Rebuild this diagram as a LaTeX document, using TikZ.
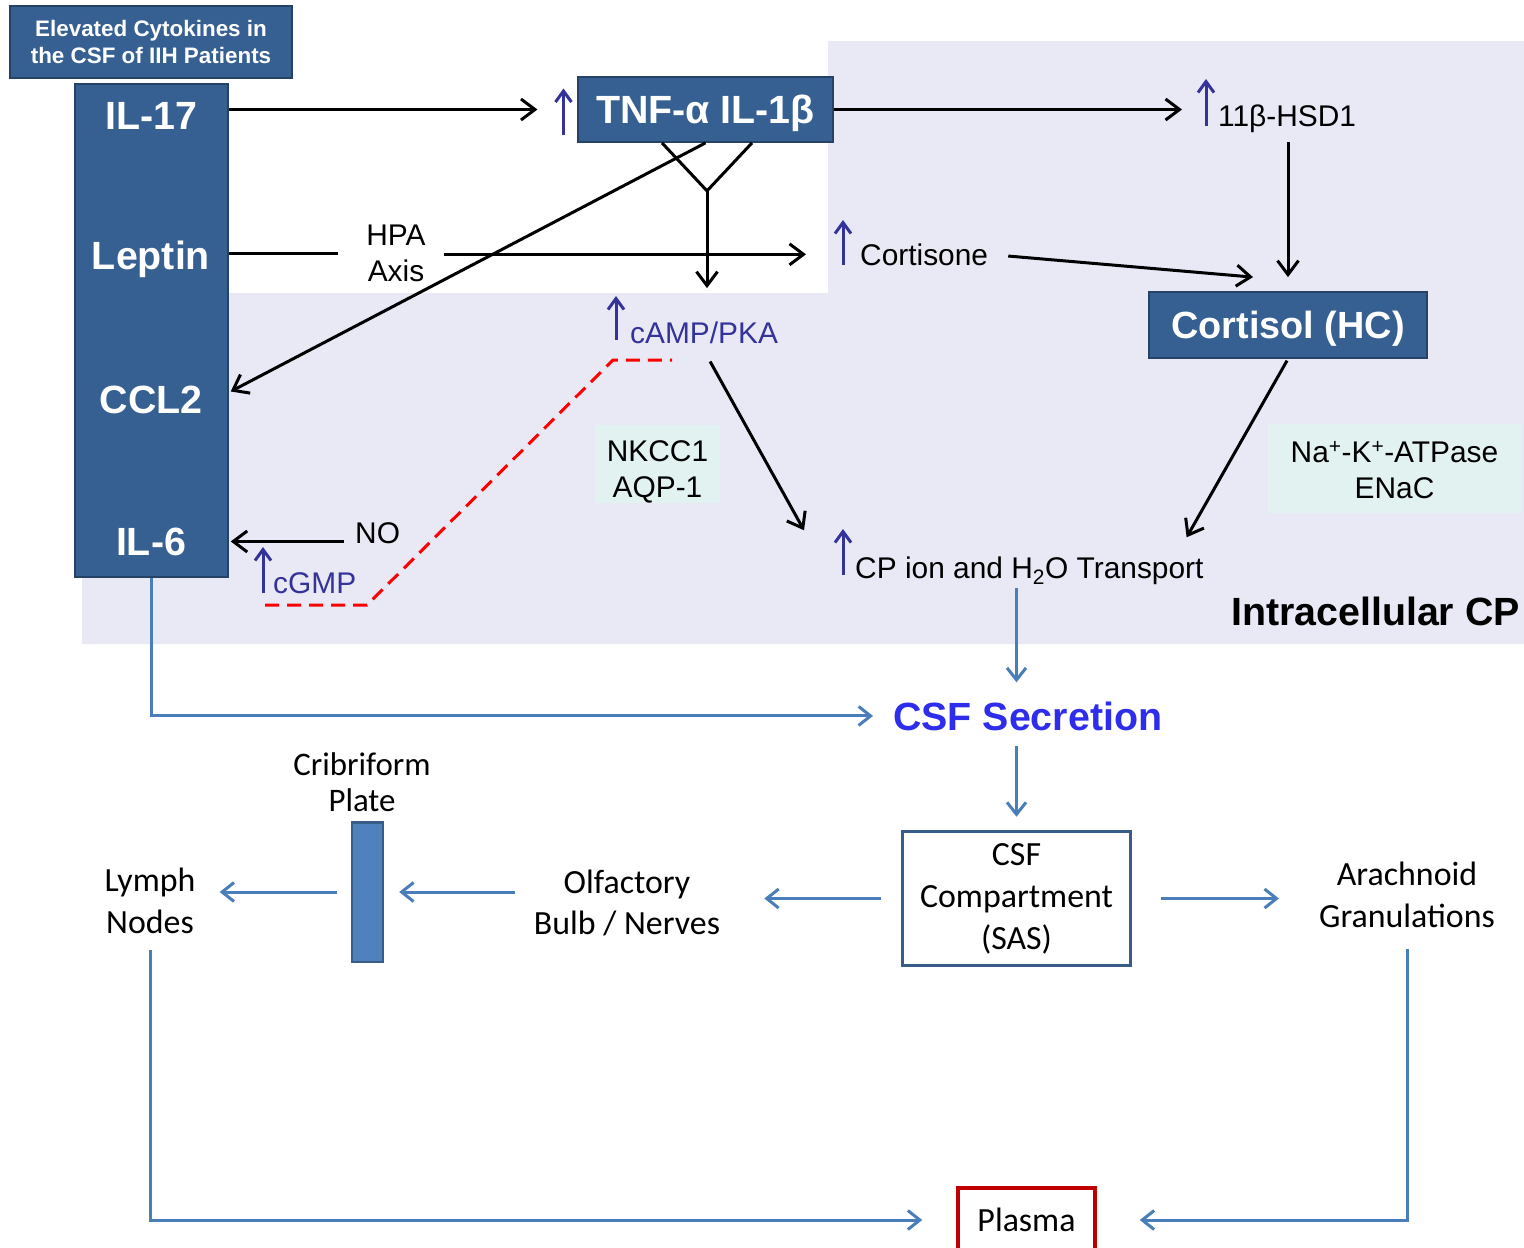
\documentclass[tikz,border=0pt]{standalone}
\usepackage{fontspec}
\setmainfont{Liberation Sans}
\newfontfamily\calfont{Carlito}
\usepackage{tikz}
\usetikzlibrary{arrows.meta}
\usetikzlibrary{calc}
\usetikzlibrary{positioning}

\definecolor{boxblue}{RGB}{54,96,146}
\definecolor{boxline}{RGB}{38,66,102}
\definecolor{cplav}{RGB}{233,232,245}
\definecolor{tealbg}{RGB}{226,242,241}
\definecolor{upnavy}{RGB}{51,51,153}
\definecolor{flowblue}{RGB}{74,126,187}
\definecolor{compline}{RGB}{56,93,138}
\definecolor{platefill}{RGB}{79,129,189}
\definecolor{plasmared}{RGB}{192,0,0}
\definecolor{secblue}{RGB}{45,45,235}

\begin{document}
\begin{tikzpicture}
	[
	x=1bp, y=-1bp,
	link/.style = {line width=3bp},
	arr/.style = {link, -{Straight Barb[length=14bp,width=21bp]}},
	barr/.style = {flowblue, line width=3bp, -{Straight Barb[length=12bp,width=19bp]}},
	upmark/.style = {upnavy, line width=3bp, -{Straight Barb[length=11bp,width=16bp]}},
	inhib/.style = {red, line width=3bp, dash pattern=on 14bp off 8bp},
	cytbox/.style = {draw=boxline, fill=boxblue, line width=2bp, inner sep=0pt},
	cyt/.style = {white, font=\fontsize{39.5}{47}\selectfont\bfseries, inner sep=0pt, anchor=base},
	btxt/.style = {font=\fontsize{30}{36}\selectfont, inner sep=0pt},
	ctxt/.style = {font=\calfont\fontsize{34}{42}\selectfont, inner sep=0pt, align=center},
	tealbox/.style = {fill=tealbg, inner sep=0pt}
	]
	\useasboundingbox (0,0) rectangle (1524,1247);
	\clip (0,0) rectangle (1524,1247);
	\fill[white] (0,0) rectangle (1524,1247);
	\fill[cplav] (828,41) -- (1524,41) -- (1524,644) -- (82,644) -- (82,293) -- (828,293) -- cycle;

	\node[cytbox, align=center, text=white, font=\fontsize{22.5}{28}\selectfont\bfseries, minimum width=283, minimum height=73] (title) at (151,42) {Elevated Cytokines in\\the CSF of IIH Patients};
	\node[cytbox, minimum width=153, minimum height=495] (cytk) at (151.5,330.5) {};
	\node[cyt] (il17) at (151,129) {IL-17};
	\node[cyt] (leptin) at (151,269) {Leptin};
	\node[cyt] (ccl2) at (151,413) {CCL2};
	\node[cyt] (il6) at (151,555) {IL-6};

	\node[cytbox, text=white, font=\fontsize{39.5}{47}\selectfont\bfseries, text height=28bp, text depth=0pt, minimum width=255, minimum height=65] (tnf) at (705.5,109.5) {TNF-α IL-1β};
	\node[cytbox, text=white, font=\fontsize{38}{46}\selectfont\bfseries, text height=27bp, text depth=0pt, minimum width=280, minimum height=66] (cortisol) at (1288,325) {Cortisol (HC)};

	\node[btxt, anchor=base west] (hsd) at (1218,126) {11β-HSD1};
	\node[btxt, anchor=base west] (cortisone) at (860,265) {Cortisone};
	\node[btxt, align=center] (hpa) at (396,253) {HPA\\Axis};
	\node[btxt, anchor=base west, upnavy] (camp) at (630,343) {cAMP/PKA};
	\node[btxt, anchor=base west, upnavy] (cgmp) at (273,593) {cGMP};
	\node[btxt, anchor=base west] (no) at (355,543) {NO};
	\node[btxt, anchor=base west] (transport) at (855,578) {CP ion and H\textsubscript{2}O Transport};
	\node[tealbox, minimum width=125, minimum height=78] (nkcc) at (657.5,464) {};
	\node[btxt, align=center] (nkcctxt) at (657.5,472) {NKCC1\\AQP-1};
	\node[tealbox, minimum width=253, minimum height=89] (nak) at (1394.5,468.5) {};
	\node[btxt, align=center] (naktxt) at (1394.5,470) {Na\textsuperscript{+}-K\textsuperscript{+}-ATPase\\ENaC};
	\node[font=\fontsize{39.5}{46}\selectfont\bfseries, inner sep=0pt, anchor=base east] (cp) at (1520,625) {Intracellular CP};

	\draw[upmark] ([xshift=-14bp]tnf.west) ++(0,25) -- ++(0,-46);
	\draw[upmark] ([xshift=-12bp]hsd.base west) -- ++(0,-47);
	\draw[upmark] ([xshift=-17bp]cortisone.base west) -- ++(0,-45);
	\draw[upmark] ([xshift=-14bp]camp.base west) ++(0,-3) -- ++(0,-44);
	\draw[upmark] ([xshift=-10bp]cgmp.base west) -- ++(0,-46);
	\draw[upmark] ([xshift=-12bp]transport.base west) ++(0,-3) -- ++(0,-46);

	\draw[arr] (cytk.east |- tnf.west) -- ([xshift=-40bp]tnf.west);
	\draw[arr, shorten >=36bp] (tnf.east) -- (tnf.east -| hsd.west);
	\draw[arr, shorten <=10bp, shorten >=14bp] (hsd.south -| cortisol.north) -- (cortisol.north);
	\draw[link, shorten >=28bp] (cytk.east |- hpa.west) -- (hpa.west);
	\draw[arr, shorten <=18bp, shorten >=54bp] (hpa.east |- cortisone.west) -- (cortisone.west);
	\draw[arr, shorten <=20bp] (cortisone.east) -- ($(cortisol.north)+(-35,-14)$);
	\coordinate (fork) at ($(tnf.south)+(1.5,48)$);
	\draw[link] ($(tnf.south)+(-43.5,0)$) -- (fork) -- ($(tnf.south)+(46.5,0)$);
	\draw[arr, shorten >=33bp] (fork) -- (fork |- camp.north);
	\draw[arr] (tnf.south) -- ($(cytk.east |- ccl2)+(2,-8)$);
	\draw[arr] ($(camp.south)+(6,18)$) -- ($(transport.west)+(-51,-40)$);
	\draw[arr, shorten <=2bp] (cortisol.south) -- ($(transport.east)+(-17,-33)$);
	\draw[arr, shorten <=11bp, shorten >=2bp] (no.west |- il6) -- (cytk.east |- il6);
	\draw[inhib] ($(cgmp.base west)+(-8,12)$) -- ++(102,0) -- ($(camp.base west)+(-17,17)$) -- ++(59,0);

	\node[font=\fontsize{39.5}{47}\selectfont\bfseries, secblue, inner sep=0pt, anchor=base west] (csfsec) at (893,730) {CSF Secretion};
	\node[ctxt, draw=compline, line width=3bp, minimum width=229, minimum height=135] (csfcomp) at (1016.5,898.5) {CSF\\Compartment\\(SAS)};
	\node[ctxt] (olf) at (627,903) {Olfactory\\Bulb / Nerves};
	\node[draw=compline, fill=platefill, line width=2.5bp, minimum width=31, minimum height=140, inner sep=0pt] (plate) at (367.5,892) {};
	\node[ctxt, font=\calfont\fontsize{33}{36}\selectfont] (crib) at (362,782) {Cribriform\\Plate};
	\node[ctxt] (lymph) at (150,901) {Lymph\\Nodes};
	\node[ctxt] (arach) at (1407,895) {Arachnoid\\Granulations};
	\node[ctxt, draw=plasmared, line width=4bp, minimum width=137, minimum height=64] (plasma) at (1026.5,1220) {Plasma};

	\draw[barr] (cytk.south) |- ([xshift=-20bp]csfsec.west);
	\draw[barr, shorten <=4bp, shorten >=19bp] (csfcomp.north |- transport.south) -- (csfcomp.north |- csfsec.north);
	\draw[barr, shorten <=15bp, shorten >=13bp] (csfcomp.north |- csfsec.south) -- (csfcomp.north);
	\draw[barr, shorten <=20bp, shorten >=44bp] (csfcomp.west) -- (csfcomp.west -| olf.east);
	\draw[barr, shorten <=19bp, shorten >=15bp] (olf.west |- plate) -- (plate.east);
	\draw[barr, shorten <=14bp, shorten >=24bp] (plate.west) -- (plate.west -| lymph.east);
	\draw[barr, shorten <=16bp] (lymph.south) |- ([xshift=-34bp]plasma.west);
	\draw[barr, shorten <=29bp, shorten >=40bp] (csfcomp.east) -- (csfcomp.east -| arach.west);
	\draw[barr, shorten <=21bp] (arach.south) |- ([xshift=43bp]plasma.east);
\end{tikzpicture}
\end{document}
